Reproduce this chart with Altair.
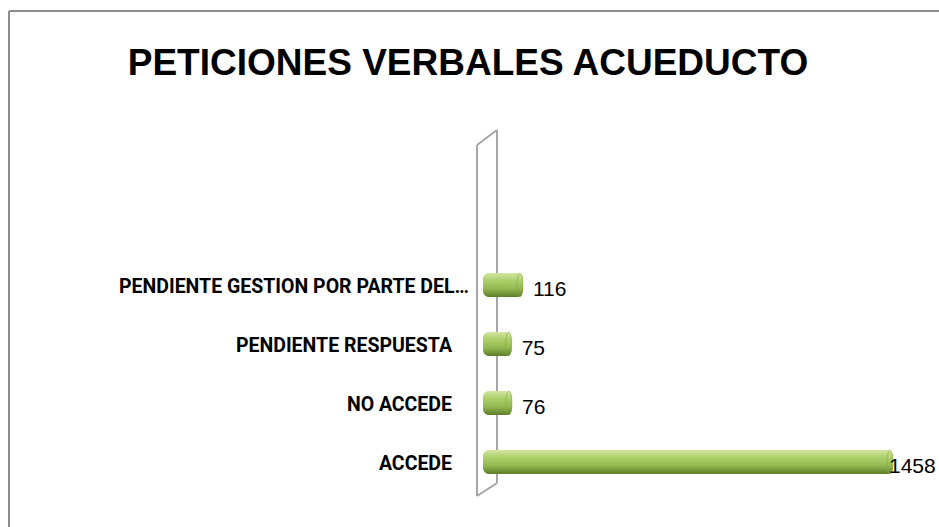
import altair as alt
import pandas as pd

# ---- data ----
categories = ["PENDIENTE GESTION POR PARTE DEL…", "PENDIENTE RESPUESTA", "NO ACCEDE", "ACCEDE"]
values = [116, 75, 76, 1458]
title_text = "PETICIONES VERBALES ACUEDUCTO"

df = pd.DataFrame({"categoria": categories, "valor": values})
one = pd.DataFrame({"t": [title_text]})

W, H = 939, 527
yscale = alt.Scale(domain=categories, range=[255.5, 491.5], paddingInner=0, paddingOuter=0)
xscale = alt.Scale(domain=[0, 1458], range=[491, 893])

Y = alt.Y("categoria:N", scale=yscale, axis=None, sort=categories)
X = alt.X("valor:Q", scale=xscale, axis=None)

grad = alt.Gradient(
    gradient="linear", x1=0, y1=0, x2=0, y2=1,
    stops=[
        alt.GradientStop(color="#d2e6a2", offset=0),
        alt.GradientStop(color="#aed06c", offset=0.3),
        alt.GradientStop(color="#93b950", offset=0.65),
        alt.GradientStop(color="#5e7d2a", offset=1),
    ],
)

def seg(x1, y1, x2, y2, color="#a6a6a6", w=2):
    return alt.Chart(one).mark_rule(color=color, strokeWidth=w).encode(
        x=alt.value(x1), y=alt.value(y1), x2=alt.value(x2), y2=alt.value(y2)
    )

# outer border (top and left visible)
border = [seg(9, 11, 940, 11, "#8c8c8c", 2), seg(9, 11, 9, 528, "#8c8c8c", 2)]
# 3D wall
wall = [
    seg(477, 145, 477, 496),
    seg(497, 130, 497, 483),
    seg(477, 145, 497, 130),
    seg(477, 496, 497, 483),
]

base = alt.Chart(df)

# bars start at the front face of the wall (slightly left of the value-zero line, 3D depth)
bars = base.mark_bar(color=grad, size=24, cornerRadius=3, cornerRadiusEnd=6).encode(
    y=Y, x=X, x2=alt.X2(datum=-29)
)

cap_shape = "M0,-1A0.25,1,0,1,1,0,1A0.25,1,0,1,1,0,-1Z"
caps = base.mark_point(
    shape=cap_shape, size=560, filled=True, fill=grad, stroke="#86a844", strokeWidth=0.6, opacity=1
).encode(y=Y, x=X, xOffset=alt.value(-3))

label_font = "Liberation Sans"
cat_font = "Roboto"
cat_main = base.transform_filter(alt.datum.categoria != categories[0]).mark_text(
    align="right", baseline="middle", font=cat_font, fontWeight="bold", fontSize=19.5, dy=2, color="black"
).encode(y=Y, x=alt.value(452), text="categoria:N")
cat_long = base.transform_filter(alt.datum.categoria == categories[0]).mark_text(
    align="right", baseline="middle", font=cat_font, fontWeight="bold", fontSize=19.5, dy=2, color="black"
).encode(y=Y, x=alt.value(469), text="categoria:N")

val_small = base.transform_filter(alt.datum.valor < 1000).mark_text(
    align="left", baseline="middle", font=label_font, fontSize=21, dx=10, dy=5, color="black"
).encode(y=Y, x=X, text="valor:Q")
val_big = base.transform_filter(alt.datum.valor >= 1000).mark_text(
    align="left", baseline="middle", font=label_font, fontSize=21, dx=-4, dy=5, color="black"
).encode(y=Y, x=X, text="valor:Q")

title = alt.Chart(one).mark_text(
    align="center", baseline="alphabetic", font=label_font, fontWeight="bold", fontSize=37, color="black"
).encode(x=alt.value(468), y=alt.value(75), text="t:N")

chart = alt.layer(
    *border, *wall, bars, caps, cat_main, cat_long, val_small, val_big, title
).properties(
    width=W, height=H, autosize=alt.AutoSizeParams(type="none"), padding=0, background="white"
).configure_view(stroke=None)

chart.save("out.html", embed_options={"renderer": "svg", "actions": False})
